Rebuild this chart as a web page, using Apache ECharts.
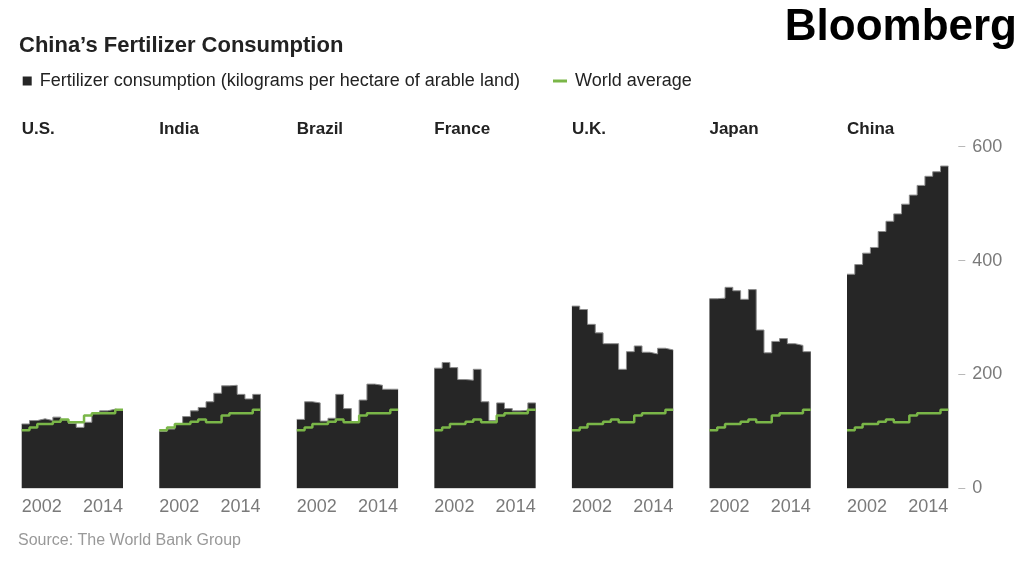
<!DOCTYPE html>
<html>
<head>
<meta charset="utf-8">
<script src="https://cdn.jsdelivr.net/npm/echarts@6/dist/echarts.min.js"></script>
<style>
html,body{margin:0;padding:0;background:#fff;}
#chart{width:1024px;height:566px;}
</style>
</head>
<body>
<div id="chart"></div>
<script>
// ---- data ----
var years = [2002,2003,2004,2005,2006,2007,2008,2009,2010,2011,2012,2013,2014];
var countries = ['U.S.','India','Brazil','France','U.K.','Japan','China'];
var usVals     = [113,119,122,119,125,120,114,107,116,131,136,139,137];
var indiaVals  = [100,104,113,126,136,142,152,167,180,181,165,157,165];
var brazilVals = [121,152,150,118,123,165,140,117,155,183,181,174,174];
var franceVals = [211,221,212,191,190,209,152,119,150,140,136,137,150];
var ukVals     = [320,314,288,273,254,254,209,240,250,239,236,246,243];
var japanVals  = [333,334,353,347,332,349,278,238,258,263,254,251,240];
var chinaVals  = [376,393,413,423,451,469,482,499,515,532,548,556,566];
var worldAvg   = [102,107,113,113,117,121,116,116,128,132,132,132,138];
var xTickYears = [2002, 2014];
var yTicks = [0, 200, 400, 600];

var seriesVals = [usVals, indiaVals, brazilVals, franceVals, ukVals, japanVals, chinaVals];

var FERT = 'Fertilizer consumption (kilograms per hectare of arable land)';
var WORLD = 'World average';
var SANS = "'Liberation Sans',Arial,Helvetica,sans-serif";
var BLACK = '#262626';
var GREEN = '#7ab648';

function stepData(vals) {
  var d = years.map(function (y, i) { return [y - 0.5, vals[i]]; });
  d.push([years[years.length - 1] + 0.5, vals[vals.length - 1]]);
  return d;
}

var grids = [], xAxes = [], yAxes = [], series = [], graphics = [];
var panelLeft0 = 21.7, panelStep = 137.55, panelW = 101.3;
var gridTop = 146.7, gridH = 341.6;

countries.forEach(function (c, i) {
  var left = panelLeft0 + i * panelStep;
  grids.push({left: left, top: gridTop, width: panelW, height: gridH});
  xAxes.push({
    type: 'value', gridIndex: i,
    min: years[0] - 0.5, max: years[years.length - 1] + 0.5,
    axisLine: {show: false}, axisTick: {show: false}, splitLine: {show: false},
    axisLabel: {
      customValues: [xTickYears[0] - 0.5, xTickYears[1] + 0.5],
      formatter: function (v) { return v < 2008 ? String(xTickYears[0]) : String(xTickYears[1]); },
      alignMinLabel: 'left', alignMaxLabel: 'right',
      margin: 10, fontSize: 18, color: '#7a7a7a', fontFamily: SANS
    }
  });
  var isLast = i === countries.length - 1;
  yAxes.push({
    type: 'value', gridIndex: i, min: yTicks[0], max: yTicks[yTicks.length - 1], interval: yTicks[1] - yTicks[0],
    show: isLast, position: 'right', offset: 10,
    axisLine: {show: false},
    axisTick: {show: true, length: 7, lineStyle: {color: '#b8b8b8', width: 1}},
    splitLine: {show: false},
    axisLabel: {margin: 14, fontSize: 18, color: '#7a7a7a', fontFamily: SANS}
  });
  series.push({
    name: FERT, type: 'line', xAxisIndex: i, yAxisIndex: i,
    data: stepData(seriesVals[i]), step: 'end', symbol: 'none',
    itemStyle: {color: BLACK},
    lineStyle: {color: '#8c8c8c', width: 1},
    areaStyle: {color: BLACK, opacity: 1},
    z: 2, silent: true
  });
  series.push({
    name: WORLD, type: 'line', xAxisIndex: i, yAxisIndex: i,
    data: stepData(worldAvg), step: 'end', symbol: 'none',
    itemStyle: {color: GREEN},
    lineStyle: {color: GREEN, width: 2.5},
    z: 3, silent: true
  });
  graphics.push({
    type: 'text', left: left, top: 121,
    style: {text: c, font: 'bold 17px ' + SANS, fill: '#222'}
  });
});

graphics.push({
  type: 'text', left: 19, top: 35,
  style: {text: 'China\u2019s Fertilizer Consumption', font: 'bold 22px ' + SANS, fill: '#222'}
});
graphics.push({
  type: 'text', left: 18, top: 533,
  style: {text: 'Source: The World Bank Group', font: '16px ' + SANS, fill: '#999'}
});
graphics.push({
  type: 'text', right: 7, top: 6,
  style: {text: 'Bloomberg', font: 'bold 44px ' + SANS, fill: '#000'}
});

var option = {
  animation: false,
  backgroundColor: '#fff',
  grid: grids, xAxis: xAxes, yAxis: yAxes, series: series,
  legend: [
    {left: 22.7, top: 72, padding: 0, icon: 'rect', itemWidth: 9, itemHeight: 9, selectedMode: false,
     data: [{name: FERT, itemStyle: {color: BLACK}}],
     textStyle: {fontSize: 18, color: '#222', fontFamily: SANS, padding: [0, 0, 0, 3]}},
    {left: 553, top: 72, padding: 0, icon: 'rect', itemWidth: 14, itemHeight: 3, selectedMode: false,
     data: [{name: WORLD, itemStyle: {color: GREEN}}],
     textStyle: {fontSize: 18, color: '#222', fontFamily: SANS, padding: [0, 0, 0, 3]}}
  ],
  graphic: graphics
};

var chart = echarts.init(document.getElementById('chart'), null, {renderer: 'canvas'});
chart.setOption(option);
</script>
</body>
</html>
